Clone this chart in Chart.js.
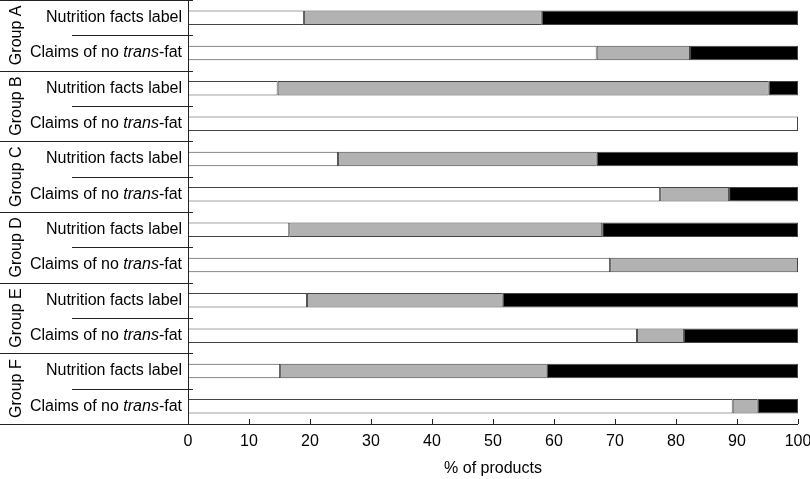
<!DOCTYPE html>
<html>
<head>
<meta charset="utf-8">
<script src="https://cdn.jsdelivr.net/npm/chart.js@4"></script>
<style>
  html, body { margin: 0; padding: 0; background: #fff; }
  #wrap { width: 810px; height: 479px; }
</style>
</head>
<body>
<div id="wrap"><canvas id="grafico"></canvas></div>
<script>
// Dados do gráfico
const grupos = ['Group A', 'Group B', 'Group C', 'Group D', 'Group E', 'Group F'];
const tiposRotulo = ['Nutrition facts label', 'Claims of no trans-fat'];
const categorias = ['A-nfl', 'A-claim', 'B-nfl', 'B-claim', 'C-nfl', 'C-claim',
                    'D-nfl', 'D-claim', 'E-nfl', 'E-claim', 'F-nfl', 'F-claim'];
const valoresBranco = [19.0, 67.0, 14.7, 100, 24.6, 77.4, 16.6, 69.2, 19.5, 73.6, 15.1, 89.3];
const valoresCinza  = [39.0, 15.3, 80.5, 0, 42.4, 11.3, 51.3, 30.8, 32.1, 7.7, 43.7, 4.1];
const valoresPreto  = [42.0, 17.7, 4.8, 0, 33.0, 11.3, 32.1, 0, 48.4, 18.7, 41.2, 6.6];
const ticksX = [0, 10, 20, 30, 40, 50, 60, 70, 80, 90, 100];

const FONTE = '"Liberation Sans", Arial, sans-serif';
const TAM = 16;

// Plugin para desenhar rótulos, separadores e marcas dos eixos
const desenhoExtra = {
    id: 'desenhoExtra',
    afterDraw(chart) {
        const ctx = chart.ctx;
        const area = chart.chartArea;
        const y = chart.scales.y;
        const x = chart.scales.x;
        const n = categorias.length;
        const meia = (y.getPixelForValue(1) - y.getPixelForValue(0)) / 2;

        ctx.save();
        ctx.strokeStyle = '#222';
        ctx.lineWidth = 1;

        // linhas separadoras
        for (let i = 0; i <= n; i++) {
            const yy = Math.round(i < n ? y.getPixelForValue(i) - meia : y.getPixelForValue(n - 1) + meia) + 0.5;
            let x0 = (i % 2 === 0) ? 0 : 72;
            let x1 = area.left + 5;
            if (i === n) x1 = area.right;
            ctx.beginPath();
            ctx.moveTo(x0, yy);
            ctx.lineTo(x1, yy);
            ctx.stroke();
        }

        // eixo y
        const xe = Math.round(area.left) + 0.5;
        ctx.beginPath();
        ctx.moveTo(xe, area.top);
        ctx.lineTo(xe, area.bottom);
        ctx.stroke();

        // marcas do eixo x (para dentro)
        ticksX.forEach(v => {
            const xx = Math.round(x.getPixelForValue(v)) + 0.5;
            ctx.beginPath();
            ctx.moveTo(xx, area.bottom);
            ctx.lineTo(xx, area.bottom - 5);
            ctx.stroke();
        });

        // rótulos das categorias (com "trans" em itálico)
        ctx.fillStyle = '#000';
        ctx.textBaseline = 'middle';
        const xDir = 182;
        categorias.forEach((c, i) => {
            const yy = y.getPixelForValue(i);
            if (i % 2 === 0) {
                ctx.font = TAM + 'px ' + FONTE;
                ctx.textAlign = 'right';
                ctx.fillText(tiposRotulo[0], xDir, yy);
            } else {
                const partes = [['Claims of no ', 'normal'], ['trans', 'italic'], ['-fat', 'normal']];
                let larg = 0;
                partes.forEach(p => { ctx.font = p[1] + ' ' + TAM + 'px ' + FONTE; larg += ctx.measureText(p[0]).width; });
                let xx = xDir - larg;
                ctx.textAlign = 'left';
                partes.forEach(p => {
                    ctx.font = p[1] + ' ' + TAM + 'px ' + FONTE;
                    ctx.fillText(p[0], xx, yy);
                    xx += ctx.measureText(p[0]).width;
                });
            }
        });

        // rótulos dos grupos (verticais)
        ctx.font = TAM + 'px ' + FONTE;
        ctx.textAlign = 'center';
        grupos.forEach((g, k) => {
            const yc = (y.getPixelForValue(2 * k) + y.getPixelForValue(2 * k + 1)) / 2;
            ctx.save();
            ctx.translate(17, yc);
            ctx.rotate(-Math.PI / 2);
            ctx.fillText(g, 0, 0);
            ctx.restore();
        });
        ctx.restore();
    }
};

const estiloBarra = { borderColor: '#444', borderWidth: 1, borderSkipped: false, barPercentage: 0.41, categoryPercentage: 1 };

new Chart(document.getElementById('grafico'), {
    type: 'bar',
    data: {
        labels: categorias,
        datasets: [
            { data: valoresBranco, backgroundColor: '#ffffff', ...estiloBarra },
            { data: valoresCinza, backgroundColor: '#b2b2b2', ...estiloBarra },
            { data: valoresPreto, backgroundColor: '#000000', ...estiloBarra }
        ]
    },
    options: {
        indexAxis: 'y',
        responsive: true,
        maintainAspectRatio: false,
        animation: false,
        layout: { padding: { top: 0, right: 12, left: 0, bottom: 0 } },
        plugins: { legend: { display: false }, tooltip: { enabled: false } },
        scales: {
            x: {
                stacked: true,
                min: 0,
                max: 100,
                afterBuildTicks: s => { s.ticks = ticksX.map(v => ({ value: v })); },
                grid: { display: false, drawTicks: false },
                border: { display: false },
                ticks: { color: '#000', padding: 8, font: { size: TAM, family: FONTE }, maxRotation: 0 },
                title: { display: true, text: '% of products', color: '#000', font: { size: TAM, family: FONTE }, padding: { top: 8, bottom: 1 } },
                afterFit: s => { s.height = 55; s.paddingRight = 0; s.paddingLeft = 0; }
            },
            y: {
                stacked: true,
                grid: { display: false },
                border: { display: false },
                ticks: { display: false },
                afterFit: s => { s.width = 188; }
            }
        }
    },
    plugins: [desenhoExtra]
});
</script>
</body>
</html>
